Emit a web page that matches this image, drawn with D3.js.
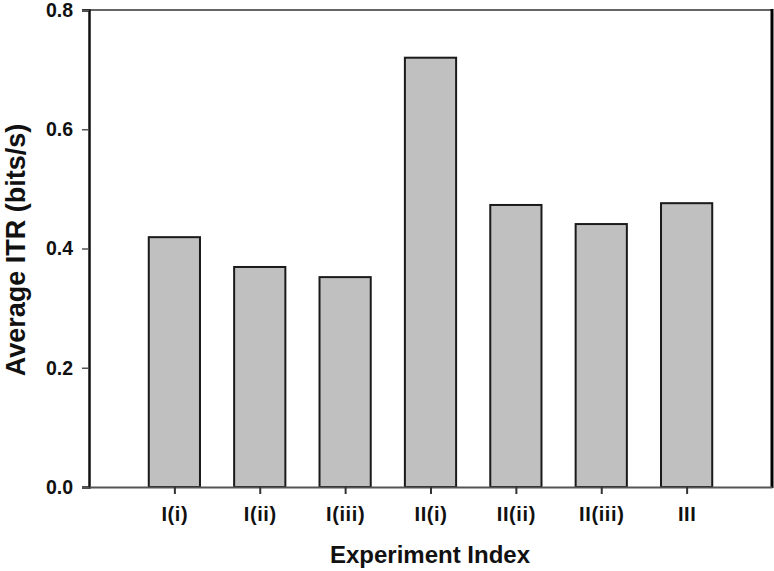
<!DOCTYPE html>
<meta charset="utf-8">
<style>
  body { margin: 0; background: #fff; }
  text { font-family: "Liberation Sans", Arial, sans-serif; font-weight: bold; fill: #111; }
  .bar { fill: #c0c0c0; stroke: #1a1a1a; stroke-width: 2; }
</style>
<body>
<script src="https://d3js.org/d3.v7.min.js"></script>
<script>
// values
const experiments = ["I(i)", "I(ii)", "I(iii)", "II(i)", "II(ii)", "II(iii)", "III"];
const avgITR = [0.419, 0.369, 0.352, 0.720, 0.473, 0.441, 0.476];
const yTicks = [0.0, 0.2, 0.4, 0.6, 0.8];

const width = 774, height = 571;
const plot = {left: 89, right: 772, top: 10, bottom: 487};

const svg = d3.select("body").append("svg")
    .attr("width", width)
    .attr("height", height);

const x = d3.scalePoint()
    .domain(experiments)
    .range([plot.left, plot.right])
    .padding(1);

const y = d3.scaleLinear()
    .domain([0, 0.8])
    .range([plot.bottom, plot.top]);

const barW = x.step() * 0.6;

// frame: top and right
svg.append("line")
    .attr("x1", plot.left - 7).attr("x2", plot.right)
    .attr("y1", plot.top).attr("y2", plot.top)
    .attr("stroke", "#666").attr("stroke-width", 2);
svg.append("line")
    .attr("x1", plot.right).attr("x2", plot.right)
    .attr("y1", plot.top - 1).attr("y2", plot.bottom + 1)
    .attr("stroke", "#000").attr("stroke-width", 3);

// bars
svg.selectAll(".bar")
  .data(experiments)
  .enter().append("rect")
    .attr("class", "bar")
    .attr("x", d => x(d) - barW / 2)
    .attr("width", barW)
    .attr("y", (d, i) => y(avgITR[i]))
    .attr("height", (d, i) => y(0) - y(avgITR[i]));

// y axis
const yAxis = svg.append("g")
    .attr("transform", `translate(${plot.left},0)`)
    .call(d3.axisLeft(y).tickValues(yTicks).tickFormat(d3.format(".1f")).tickSize(7).tickPadding(9));
yAxis.select(".domain").attr("stroke", "#111").attr("stroke-width", 2.5);
yAxis.selectAll(".tick line").attr("stroke", "#555").attr("stroke-width", 1.5);
yAxis.selectAll("text").attr("font-size", 19.5).attr("fill", "#111")
    .attr("font-family", "Liberation Sans, Arial, sans-serif");

// x axis
const xAxis = svg.append("g")
    .attr("transform", `translate(0,${plot.bottom})`)
    .call(d3.axisBottom(x).tickSize(7).tickSizeOuter(0).tickPadding(13));
xAxis.select(".domain").attr("stroke", "#555").attr("stroke-width", 2);
xAxis.selectAll(".tick line").attr("stroke", "#333").attr("stroke-width", 2);
xAxis.selectAll("text").attr("font-size", 20).attr("fill", "#111")
    .attr("letter-spacing", 0.6)
    .attr("font-family", "Liberation Sans, Arial, sans-serif");

// titles
svg.append("text")
    .attr("x", 430).attr("y", 563)
    .attr("text-anchor", "middle")
    .attr("font-size", 24)
    .text("Experiment Index");

svg.append("text")
    .attr("transform", "translate(25,250) rotate(-90)")
    .attr("text-anchor", "middle")
    .attr("font-size", 27)
    .text("Average ITR (bits/s)");
</script>
</body>
</html>
